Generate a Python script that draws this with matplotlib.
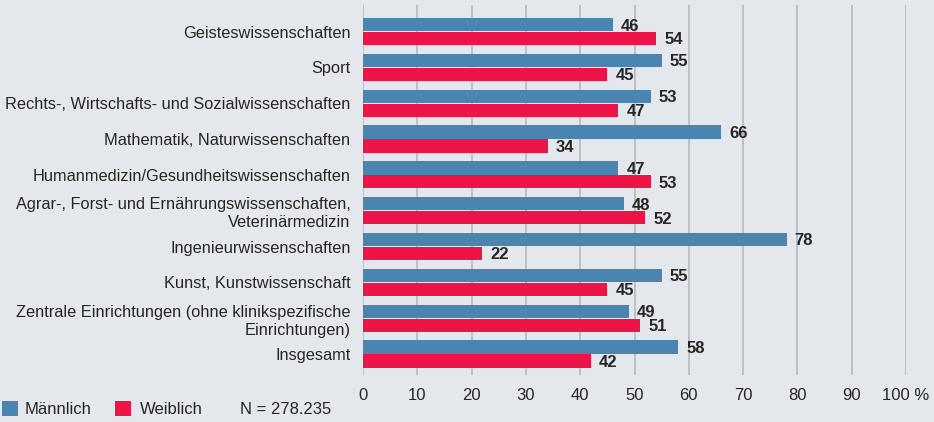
import matplotlib
matplotlib.use("Agg")
import matplotlib.pyplot as plt
import numpy as np
from matplotlib.patches import Rectangle

categories = [
    "Geisteswissenschaften",
    "Sport",
    "Rechts-, Wirtschafts- und Sozialwissenschaften",
    "Mathematik, Naturwissenschaften",
    "Humanmedizin/Gesundheitswissenschaften",
    "Agrar-, Forst- und Ernährungswissenschaften,\nVeterinärmedizin",
    "Ingenieurwissenschaften",
    "Kunst, Kunstwissenschaft",
    "Zentrale Einrichtungen (ohne klinikspezifische\nEinrichtungen)",
    "Insgesamt",
]
maennlich = [46, 55, 53, 66, 47, 48, 78, 55, 49, 58]
weiblich = [54, 45, 47, 34, 53, 52, 22, 45, 51, 42]
xticks = [0, 10, 20, 30, 40, 50, 60, 70, 80, 90, 100]
xticklabels = ["0", "10", "20", "30", "40", "50", "60", "70", "80", "90", "100 %"]

BLUE = "#4a84b0"
RED = "#ee1448"
BG = "#e4e8ec"
GRID = "#b4b8bc"
INK = "#262626"

plt.rcParams["font.family"] = ["Liberation Sans", "DejaVu Sans"]

fig = plt.figure(figsize=(9.34, 4.22), dpi=100)
fig.patch.set_facecolor(BG)
ax = fig.add_axes([0.3887, 0.111, 0.5813, 0.877])
ax.set_facecolor(BG)

y = np.arange(len(categories))
h = 0.37
yb = y - h / 2 - 0.01
yr = y + h / 2 + 0.01
ax.barh(yb, maennlich, height=h, color=BLUE, zorder=3)
ax.barh(yr, weiblich, height=h, color=RED, zorder=3)

for i in range(len(categories)):
    ax.text(maennlich[i] + 1.5, yb[i] + 0.04, str(maennlich[i]), ha="left", va="center",
            fontsize=12, fontweight="bold", color=INK, zorder=4)
    ax.text(weiblich[i] + 1.5, yr[i] + 0.04, str(weiblich[i]), ha="left", va="center",
            fontsize=12, fontweight="bold", color=INK, zorder=4)

ax.set_xlim(0, 100)
ax.set_ylim(9.59, -0.74)
ax.set_xticks(xticks)
ax.set_xticklabels(xticklabels, fontsize=12, color=INK)
ax.set_yticks(y)
ax.set_yticklabels(categories, fontsize=11.8, color=INK, linespacing=1.25)
ax.tick_params(axis="both", length=0)
ax.tick_params(axis="y", pad=9)
ax.tick_params(axis="x", pad=9)
for s in ax.spines.values():
    s.set_visible(False)
ax.grid(axis="x", color=GRID, lw=1.2, zorder=0)

# legend
fig.patches.append(Rectangle((2 / 934, 1 - 416 / 422), 16 / 934, 15 / 422,
                             transform=fig.transFigure, facecolor=BLUE, edgecolor="none"))
fig.text(25 / 934, 1 - 409 / 422, "Männlich", fontsize=12, color=INK, va="center")
fig.patches.append(Rectangle((115 / 934, 1 - 416 / 422), 16 / 934, 15 / 422,
                             transform=fig.transFigure, facecolor=RED, edgecolor="none"))
fig.text(140 / 934, 1 - 409 / 422, "Weiblich", fontsize=12, color=INK, va="center")
fig.text(240 / 934, 1 - 409 / 422, "N = 278.235", fontsize=12, color=INK, va="center")

fig.savefig("out.png", dpi=100, facecolor=BG)
